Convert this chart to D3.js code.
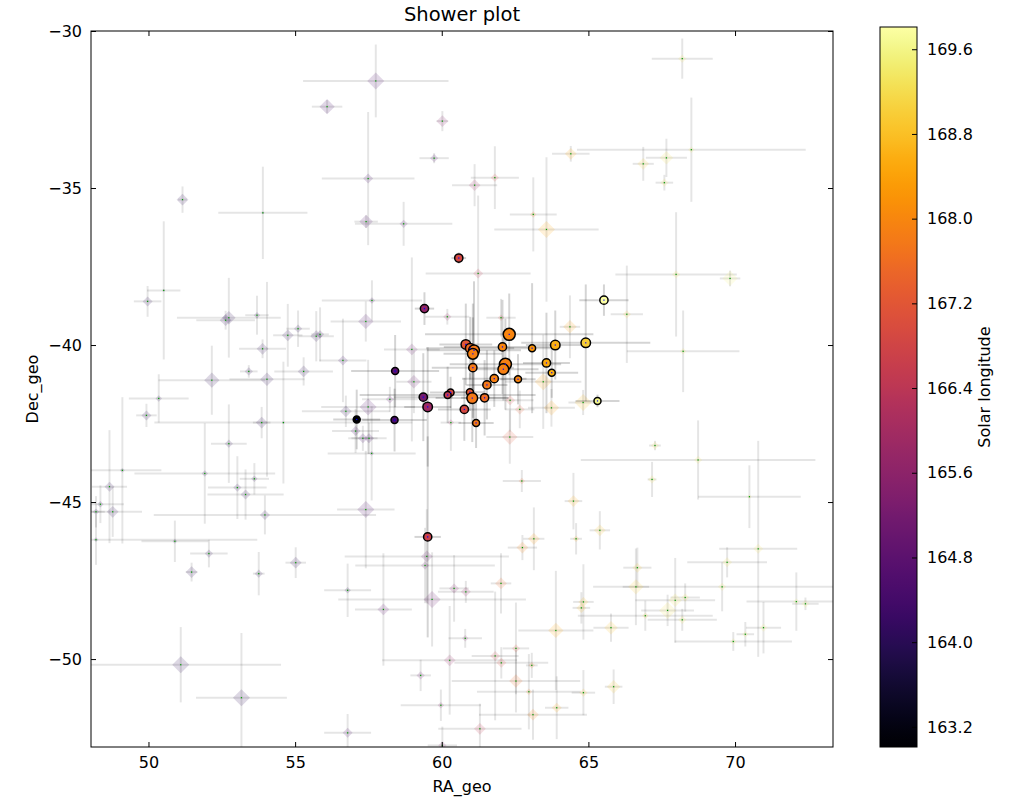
<!DOCTYPE html>
<html>
<head>
<meta charset="utf-8">
<script src="https://cdnjs.cloudflare.com/ajax/libs/d3/7.8.5/d3.min.js"></script>
<style>
body { margin: 0; background: #fff; }
text { font-family: "DejaVu Sans", sans-serif; fill: #000; }
</style>
</head>
<body>
<div id="chart"></div>
<script>
// shower members (circles)
const fgRa     = [59.41, 60.58, 60.82, 60.97, 61.10, 61.06, 62.30, 62.07, 63.08, 63.87, 64.91, 65.53, 65.31, 63.57, 63.75, 62.17, 62.10, 62.60, 61.79, 61.54, 61.06, 60.96, 61.04, 61.46, 60.30, 60.20, 60.77, 61.17, 59.37, 59.52, 58.41, 58.39, 57.10, 59.52];
const fgDec    = [-38.84, -37.23, -39.98, -40.10, -40.17, -40.28, -39.66, -40.06, -40.10, -40.00, -39.93, -38.57, -41.78, -40.57, -40.88, -40.61, -40.77, -41.09, -41.07, -41.27, -40.72, -41.50, -41.69, -41.68, -41.51, -41.59, -42.05, -42.48, -41.66, -41.97, -40.83, -42.39, -42.37, -46.11];
const fgRaErr  = [0.33, 0.25, 0.9, 1.5, 1.6, 1.0, 2.87, 2.0, 0.9, 1.0, 2.2, 0.84, 0.75, 0.8, 0.9, 1.9, 1.2, 0.6, 1.1, 0.7, 1.4, 0.5, 1.25, 0.8, 0.7, 3.0, 0.9, 0.6, 1.0, 0.8, 1.5, 1.1, 0.8, 0.45];
const fgDecErr = [0.52, 0.18, 1.3, 1.0, 2.2, 1.6, 1.3, 1.5, 2.07, 1.1, 1.86, 0.5, 0.2, 1.6, 0.8, 1.45, 1.0, 0.8, 0.9, 1.1, 1.6, 0.6, 1.4, 1.2, 0.5, 0.9, 1.0, 0.8, 1.4, 1.9, 1.15, 1.0, 0.95, 3.2];
const fgSol    = [165.7, 166.9, 167.2, 167.6, 167.8, 167.9, 168.0, 168.0, 168.2, 168.6, 169.0, 169.81, 169.6, 168.5, 168.6, 167.9, 167.9, 168.0, 167.9, 167.8, 167.8, 167.3, 167.8, 167.6, 166.9, 166.5, 166.9, 167.8, 165.2, 165.9, 164.8, 164.5, 163.01, 166.7];
const fgWeight = [4, 4, 5, 5, 6, 6, 7, 4, 3, 5, 5, 4, 3, 4, 3, 7, 6, 3, 4, 4, 4, 3, 6, 4, 3, 3, 4, 3, 4, 5, 3, 3, 3, 4];

// sporadic background (diamonds)
const bgRa     = [57.75, 56.09, 60.02, 59.74, 57.49, 51.16, 53.90, 57.42, 58.70, 57.62, 49.97, 50.52, 60.19, 52.74, 52.63, 53.70, 53.89, 54.75, 55.10, 55.72, 55.85, 56.63, 53.42, 52.16, 54.04, 55.29, 50.35, 49.93, 53.86, 54.60, 56.73, 52.74, 51.92, 49.11, 48.67, 53.03, 53.61, 53.31, 48.36, 48.21, 48.78, 53.97, 48.21, 50.90, 52.06, 51.47, 53.76, 55.02, 56.79, 51.10, 53.17, 56.79, 57.41, 59.49, 59.43, 58.01, 59.67, 60.42, 60.82, 62.02, 62.75, 63.14, 64.58, 64.49, 65.39, 60.80, 60.27, 59.28, 59.97, 61.30, 60.02, 61.82, 62.03, 62.53, 62.53, 63.07, 62.97, 63.11, 63.89, 63.92, 64.83, 64.83, 64.76, 66.67, 66.62, 69.56, 65.77, 66.94, 67.70, 67.96, 68.30, 68.20, 69.73, 70.79, 70.35, 69.94, 70.97, 72.09, 72.40, 65.86, 64.40, 61.81, 61.12, 63.12, 63.57, 68.20, 66.87, 67.66, 68.51, 67.59, 67.99, 69.83, 66.31, 68.23, 64.82, 67.27, 68.74, 67.17, 70.49, 61.24, 57.41, 62.02, 64.37, 58.98, 59.05, 58.23, 57.49, 57.06, 57.31, 57.52, 57.61, 60.31, 63.46, 62.33, 62.66, 63.74, 62.32, 62.73];
const bgDec    = [-31.59, -32.41, -32.87, -34.05, -34.70, -35.37, -35.79, -36.07, -36.14, -38.58, -38.61, -38.26, -39.10, -39.13, -39.21, -39.05, -40.12, -39.69, -39.48, -39.72, -39.66, -40.49, -40.84, -41.12, -41.09, -40.84, -41.70, -42.24, -42.47, -42.47, -42.11, -43.14, -44.09, -43.99, -44.51, -44.54, -44.26, -44.76, -45.07, -45.31, -45.31, -45.41, -46.20, -46.25, -46.64, -47.23, -47.28, -46.93, -47.81, -50.18, -51.23, -52.35, -45.24, -46.73, -47.02, -48.42, -48.10, -47.75, -47.86, -47.59, -46.45, -46.17, -46.17, -44.97, -45.90, -49.34, -50.04, -50.52, -51.47, -52.22, -52.75, -49.90, -50.12, -49.66, -50.70, -50.20, -51.04, -51.77, -49.09, -51.55, -51.07, -48.18, -48.37, -47.09, -47.70, -47.70, -49.00, -48.62, -48.45, -48.13, -48.04, -48.75, -46.92, -46.49, -49.21, -49.44, -49.00, -48.17, -48.24, -50.88, -33.91, -34.67, -34.91, -35.84, -36.32, -30.88, -34.23, -34.04, -33.78, -34.83, -37.75, -37.88, -39.02, -40.20, -41.83, -43.20, -43.66, -44.28, -44.83, -37.72, -39.25, -39.13, -39.42, -40.14, -41.17, -41.73, -41.97, -42.74, -42.97, -42.97, -43.45, -42.47, -41.17, -41.76, -42.05, -42.00, -42.93, -44.33];
const bgRaErr  = [2.48, 0.52, 0.2, 0.5, 1.58, 0.15, 1.52, 0.4, 1.66, 1.71, 0.47, 0.57, 0.75, 1.77, 1.0, 0.4, 0.8, 0.5, 0.4, 0.6, 0.3, 0.8, 0.3, 1.82, 1.28, 1.0, 1.02, 0.35, 0.3, 4.4, 1.5, 0.61, 2.4, 1.33, 0.6, 1.0, 0.5, 1.3, 0.8, 0.3, 1.0, 3.79, 5.5, 1.14, 0.64, 0.2, 0.2, 0.35, 0.8, 3.42, 1.55, 0.8, 0.98, 2.8, 2.38, 0.97, 3.2, 0.5, 0.95, 0.35, 0.5, 0.36, 0.2, 0.3, 0.35, 0.57, 2.3, 0.35, 1.37, 1.42, 0.5, 0.8, 1.6, 0.45, 2.19, 0.2, 1.77, 1.84, 1.28, 0.4, 0.4, 0.35, 0.3, 0.48, 0.45, 4.4, 0.6, 2.3, 0.9, 1.36, 0.5, 1.18, 1.36, 1.33, 0.3, 2.0, 0.6, 1.7, 0.45, 0.3, 0.64, 0.82, 0.77, 0.8, 1.78, 1.04, 0.36, 0.7, 3.9, 0.3, 2.07, 0.35, 0.55, 1.92, 0.5, 0.2, 4.0, 0.15, 1.75, 1.79, 1.2, 0.5, 0.35, 0.95, 0.6, 0.95, 1.6, 0.8, 0.5, 0.6, 1.5, 0.35, 1.3, 0.8, 0.5, 0.8, 0.8, 0.65];
const bgDecErr = [1.16, 0.21, 0.32, 0.16, 2.12, 0.42, 1.47, 0.2, 0.70, 0.64, 0.49, 2.2, 0.25, 1.27, 0.3, 0.62, 0.3, 1.0, 0.58, 0.8, 0.86, 1.33, 0.2, 1.10, 3.1, 0.45, 0.77, 0.37, 0.5, 1.94, 0.5, 1.25, 1.6, 2.33, 1.8, 1.0, 0.5, 0.8, 0.6, 0.5, 0.8, 0.62, 0.8, 0.66, 0.44, 0.3, 0.69, 0.49, 0.85, 1.2, 2.06, 0.6, 1.87, 1.5, 1.2, 1.79, 1.5, 1.06, 0.35, 0.96, 0.4, 1.0, 0.5, 0.9, 0.61, 0.3, 1.73, 0.5, 0.5, 0.8, 0.6, 2.05, 0.5, 1.46, 1.0, 0.4, 1.2, 0.8, 1.9, 1.0, 0.72, 1.2, 0.5, 0.64, 1.22, 0.78, 0.45, 0.48, 0.5, 1.35, 0.45, 0.35, 0.48, 3.44, 0.39, 0.3, 0.82, 0.93, 0.2, 0.55, 0.25, 1.0, 0.67, 1.18, 2.3, 0.64, 0.54, 0.61, 1.66, 0.25, 1.98, 0.25, 1.55, 1.30, 0.4, 0.15, 1.26, 0.56, 1.0, 2.48, 0.64, 0.6, 1.0, 2.93, 1.0, 0.4, 1.5, 0.7, 0.4, 0.5, 1.5, 0.9, 1.5, 1.0, 0.6, 0.6, 0.85, 0.35];
const bgSol    = [164.5, 164.3, 165.5, 164.5, 164.3, 164.0, 164.0, 164.5, 164.5, 164.3, 164.0, 164.0, 165.8, 164.0, 164.0, 164.0, 164.0, 164.0, 164.0, 164.0, 164.0, 164.2, 164.0, 164.0, 164.0, 164.0, 164.0, 164.0, 164.0, 164.0, 164.0, 164.0, 164.0, 164.0, 164.0, 164.0, 164.0, 164.0, 164.0, 164.0, 164.0, 164.0, 164.0, 164.0, 164.0, 164.0, 164.0, 164.0, 164.0, 164.0, 164.0, 164.5, 164.5, 165.0, 165.0, 164.8, 165.0, 165.5, 165.8, 167.5, 168.0, 168.2, 168.5, 168.6, 168.8, 165.5, 165.8, 165.0, 165.5, 166.5, 165.5, 166.8, 167.0, 167.2, 167.5, 167.8, 167.8, 168.0, 168.5, 168.5, 168.7, 168.7, 168.7, 169.0, 169.0, 169.3, 168.8, 169.0, 169.3, 169.2, 169.2, 169.2, 169.3, 169.3, 169.4, 169.4, 169.4, 169.5, 169.5, 168.9, 168.5, 167.0, 166.0, 168.0, 168.5, 169.3, 169.0, 169.2, 169.3, 169.2, 169.2, 169.5, 169.0, 169.3, 168.7, 169.2, 169.3, 169.2, 169.4, 166.5, 164.5, 167.0, 168.3, 165.0, 165.0, 164.8, 164.5, 164.3, 164.3, 164.3, 164.3, 166.0, 168.3, 167.0, 167.3, 168.3, 167.2, 167.5];
const bgWeight = [9, 8, 6, 4, 5, 6, 1, 7, 4, 3, 5, 1, 4, 7, 6, 3, 6, 6, 4, 6, 4, 5, 4, 8, 7, 6, 3, 5, 6, 1, 6, 4, 3, 2, 5, 4, 3, 5, 3, 3, 6, 5, 2, 2, 4, 6, 4, 6, 3, 9, 9, 5, 9, 6, 4, 6, 9, 5, 5, 6, 6, 6, 3, 6, 6, 3, 6, 4, 3, 6, 4, 5, 5, 4, 7, 3, 3, 6, 8, 5, 4, 5, 5, 5, 8, 4, 7, 3, 9, 7, 4, 4, 5, 5, 3, 3, 4, 3, 4, 7, 6, 4, 6, 3, 9, 4, 6, 7, 3, 4, 4, 8, 4, 3, 9, 4, 4, 4, 2, 5, 8, 3, 7, 6, 7, 4, 9, 5, 5, 5, 2, 3, 9, 5, 5, 8, 8, 3];

const xTicks = [50, 55, 60, 65, 70];
const yTicks = [-30, -35, -40, -45, -50];
const cTicks = [163.2, 164.0, 164.8, 165.6, 166.4, 167.2, 168.0, 168.8, 169.6];

const W = 1027, H = 809;
const pLeft = 91, pRight = 833, pTop = 31, pBottom = 747;
const cbLeft = 880, cbWidth = 37, cbTop = 27, cbBottom = 747;

const fg = fgRa.map((r, i) => ({ra: r, dec: fgDec[i], ex: fgRaErr[i], ey: fgDecErr[i], sol: fgSol[i], w: fgWeight[i]}));
const bg = bgRa.map((r, i) => ({ra: r, dec: bgDec[i], ex: bgRaErr[i], ey: bgDecErr[i], sol: bgSol[i], w: bgWeight[i]}));

const x = d3.scaleLinear().domain([48.04, 73.34]).range([pLeft, pRight]);
const y = d3.scaleLinear().domain([-52.8, -30]).range([pBottom, pTop]);
const vmin = d3.min(fgSol), vmax = d3.max(fgSol);
const color = d3.scaleSequential(d3.interpolateInferno).domain([vmin, vmax]);
const rBg = d3.scaleLinear().domain([1, 9]).range([1.5, 8.5]);
const rFg = d3.scaleLinear().domain([3, 7]).range([3.5, 6]);

const svg = d3.select("#chart").append("svg")
    .attr("width", W)
    .attr("height", H);

svg.append("defs").append("clipPath").attr("id", "clip")
    .append("rect").attr("x", pLeft).attr("y", pTop)
    .attr("width", pRight - pLeft).attr("height", pBottom - pTop);

const plot = svg.append("g").attr("clip-path", "url(#clip)");

function errorBars(g, data, opacity) {
    g.selectAll("line.h").data(data).enter().append("line")
        .attr("x1", d => x(d.ra - d.ex)).attr("x2", d => x(d.ra + d.ex))
        .attr("y1", d => y(d.dec)).attr("y2", d => y(d.dec))
        .attr("stroke", "#000").attr("stroke-opacity", opacity).attr("stroke-width", 2);
    g.selectAll("line.v").data(data).enter().append("line")
        .attr("x1", d => x(d.ra)).attr("x2", d => x(d.ra))
        .attr("y1", d => y(d.dec - d.ey)).attr("y2", d => y(d.dec + d.ey))
        .attr("stroke", "#000").attr("stroke-opacity", opacity).attr("stroke-width", 2);
}

// background
const gBg = plot.append("g");
errorBars(gBg.append("g"), bg, 0.1);
gBg.append("g").selectAll("path").data(bg).enter().append("path")
    .attr("d", d => { const r = rBg(d.w); return `M0,${-r}L${r},0L0,${r}L${-r},0Z`; })
    .attr("transform", d => `translate(${x(d.ra)},${y(d.dec)})`)
    .attr("fill", d => color(d.sol))
    .attr("fill-opacity", 0.16);
gBg.append("g").selectAll("rect").data(bg).enter().append("rect")
    .attr("x", d => x(d.ra) - 0.6).attr("y", d => y(d.dec) - 0.6)
    .attr("width", 1.2).attr("height", 1.2)
    .attr("fill", "#00a000");

// shower members
const gFg = plot.append("g");
errorBars(gFg.append("g"), fg, 0.17);
gFg.append("g").selectAll("circle").data(fg).enter().append("circle")
    .attr("cx", d => x(d.ra)).attr("cy", d => y(d.dec))
    .attr("r", d => rFg(d.w))
    .attr("fill", d => color(d.sol))
    .attr("stroke", "#000").attr("stroke-width", 1.5);
gFg.append("g").selectAll("rect").data(fg).enter().append("rect")
    .attr("x", d => x(d.ra) - 0.6).attr("y", d => y(d.dec) - 0.6)
    .attr("width", 1.2).attr("height", 1.2)
    .attr("fill", "#0000ff");

// axes (ticks inside, all four sides)
const fmt = d => String(d).replace("-", "\u2212");
svg.append("g").attr("transform", `translate(0,${pBottom})`)
    .call(d3.axisBottom(x).tickValues(xTicks).tickSize(-5).tickPadding(10).tickFormat(fmt));
svg.append("g").attr("transform", `translate(0,${pTop})`)
    .call(d3.axisTop(x).tickValues(xTicks).tickSize(-5).tickFormat(""));
svg.append("g").attr("transform", `translate(${pLeft},0)`)
    .call(d3.axisLeft(y).tickValues(yTicks).tickSize(-5).tickPadding(9).tickFormat(fmt));
svg.append("g").attr("transform", `translate(${pRight},0)`)
    .call(d3.axisRight(y).tickValues(yTicks).tickSize(-5).tickFormat(""));
svg.selectAll(".domain").remove();
svg.selectAll(".tick text").attr("font-size", 16).attr("font-family", "DejaVu Sans");

svg.append("rect").attr("x", pLeft).attr("y", pTop)
    .attr("width", pRight - pLeft).attr("height", pBottom - pTop)
    .attr("fill", "none").attr("stroke", "#000").attr("stroke-width", 1);

svg.append("text").attr("x", (pLeft + pRight) / 2).attr("y", 21)
    .attr("text-anchor", "middle").attr("font-size", 19.5).text("Shower plot");
svg.append("text").attr("x", (pLeft + pRight) / 2).attr("y", 792)
    .attr("text-anchor", "middle").attr("font-size", 16).text("RA_geo");
svg.append("text").attr("transform", `translate(38,${(pTop + pBottom) / 2}) rotate(-90)`)
    .attr("text-anchor", "middle").attr("font-size", 16).text("Dec_geo");

// colorbar
const cb = d3.scaleLinear().domain([vmin, vmax]).range([cbBottom, cbTop]);
const grad = svg.select("defs").append("linearGradient").attr("id", "cbgrad")
    .attr("x1", 0).attr("y1", 1).attr("x2", 0).attr("y2", 0);
d3.range(0, 1.0001, 0.02).forEach(t => {
    grad.append("stop").attr("offset", t).attr("stop-color", d3.interpolateInferno(t));
});
svg.append("rect").attr("x", cbLeft).attr("y", cbTop)
    .attr("width", cbWidth).attr("height", cbBottom - cbTop)
    .attr("fill", "url(#cbgrad)").attr("stroke", "#000").attr("stroke-width", 1);
const cbAxis = svg.append("g").attr("transform", `translate(${cbLeft + cbWidth},0)`)
    .call(d3.axisRight(cb).tickValues(cTicks).tickSize(-5).tickPadding(10).tickFormat(d3.format(".1f")));
cbAxis.select(".domain").remove();
cbAxis.selectAll(".tick text").attr("font-size", 16).attr("font-family", "DejaVu Sans");
svg.append("text").attr("transform", `translate(990,${(cbTop + cbBottom) / 2}) rotate(-90)`)
    .attr("text-anchor", "middle").attr("font-size", 16).text("Solar longitude");
</script>
</body>
</html>
